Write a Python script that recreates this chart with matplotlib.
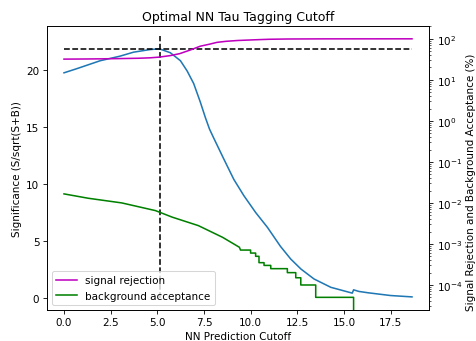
import numpy as np
import matplotlib
matplotlib.use("Agg")
import matplotlib.pyplot as plt
from matplotlib.ticker import NullFormatter

# Significance (left axis)
sig_x = [0.0, 0.68, 1.94, 3.0, 3.73, 4.62, 5.12, 5.7, 6.24, 6.6, 6.95, 7.3, 7.58, 7.8,
         8.03, 8.56, 9.1, 9.64, 10.27, 10.9, 11.6, 12.15, 12.7, 13.4, 14.3, 15.45,
         15.52, 15.8, 16.3, 17.5, 18.65]
sig_y = [19.74, 20.1, 20.8, 21.2, 21.55, 21.78, 21.84, 21.5, 20.8, 19.9, 18.8, 17.2, 15.8, 14.8,
         14.0, 12.2, 10.4, 8.97, 7.5, 6.2, 4.53, 3.42, 2.54, 1.67, 0.94, 0.43,
         0.72, 0.58, 0.46, 0.22, 0.1]

# Signal rejection (%)
rej_x = [0.0, 1.0, 2.0, 3.0, 4.0, 4.6, 5.1, 5.7, 6.2, 6.8, 7.3, 7.8, 8.2, 8.7, 9.3,
         10.3, 11.0, 12.0, 14.0, 18.65]
rej_y = [32.0, 32.2, 32.5, 33.0, 33.6, 34.4, 35.8, 39.0, 43.5, 54.0, 66.0, 74.0, 82.0,
         87.0, 91.0, 95.0, 97.5, 99.0, 99.8, 100.0]

# Background acceptance (%) - smooth part
bkg_x = [0.0, 1.3, 3.1, 4.9, 5.8, 7.2, 8.5, 9.4]
bkg_y = [0.0166, 0.0130, 0.0100, 0.0065, 0.0045, 0.0028, 0.00145, 0.00083]
# stepped tail
step_edges = [9.46, 10.0, 10.27, 10.45, 10.72, 11.08, 11.97, 12.42, 12.69, 13.49, 15.52]
step_levels = [7.1e-4, 6.0e-4, 5.0e-4, 3.5e-4, 3.0e-4, 2.5e-4, 2.0e-4, 1.5e-4, 1.0e-4, 5e-5]

right_ticks = [1e-4, 1e-3, 1e-2, 1e-1, 1e0, 1e1, 1e2]

gx = list(bkg_x)
gy = list(bkg_y)
for i, lv in enumerate(step_levels):
    gx += [step_edges[i], step_edges[i + 1]]
    gy += [lv, lv]
gx.append(step_edges[-1])
gy.append(0.0)

fig = plt.figure(figsize=(476 / 75, 342 / 75), dpi=75)
ax = fig.add_axes([0.098, 0.0906, 0.804, 0.831])
ax.plot(sig_x, sig_y, color="C0")
smax = max(sig_y)
xbest = sig_x[int(np.argmax(sig_y))]
ax.hlines(smax, sig_x[0], sig_x[-1], colors="k", linestyles="--")
ax.vlines(xbest, 0, smax * 1.05, colors="k", linestyles="--")
ax.set_xlim(-0.93, 19.58)
ax.set_ylim(-1.05, 23.86)
ax.set_xlabel("NN Prediction Cutoff")
ax.set_ylabel("Significance (S/sqrt(S+B))")
ax.set_title("Optimal NN Tau Tagging Cutoff")

ax2 = ax.twinx()
ax2.plot(rej_x, rej_y, color="m", label="signal rejection")
ax2.plot(gx, gy, color="g", label="background acceptance")
ax2.set_yscale("log")
ax2.set_yticks(right_ticks)
ax2.set_ylim(10 ** -4.61, 10 ** 2.317)
ax2.yaxis.set_minor_formatter(NullFormatter())
ax2.set_ylabel("Signal Rejection and Background Acceptance (%)")
ax2.yaxis.set_label_coords(1.095, 0.454)
ax2.legend(loc="lower left")

fig.savefig("out.png", dpi=75)
